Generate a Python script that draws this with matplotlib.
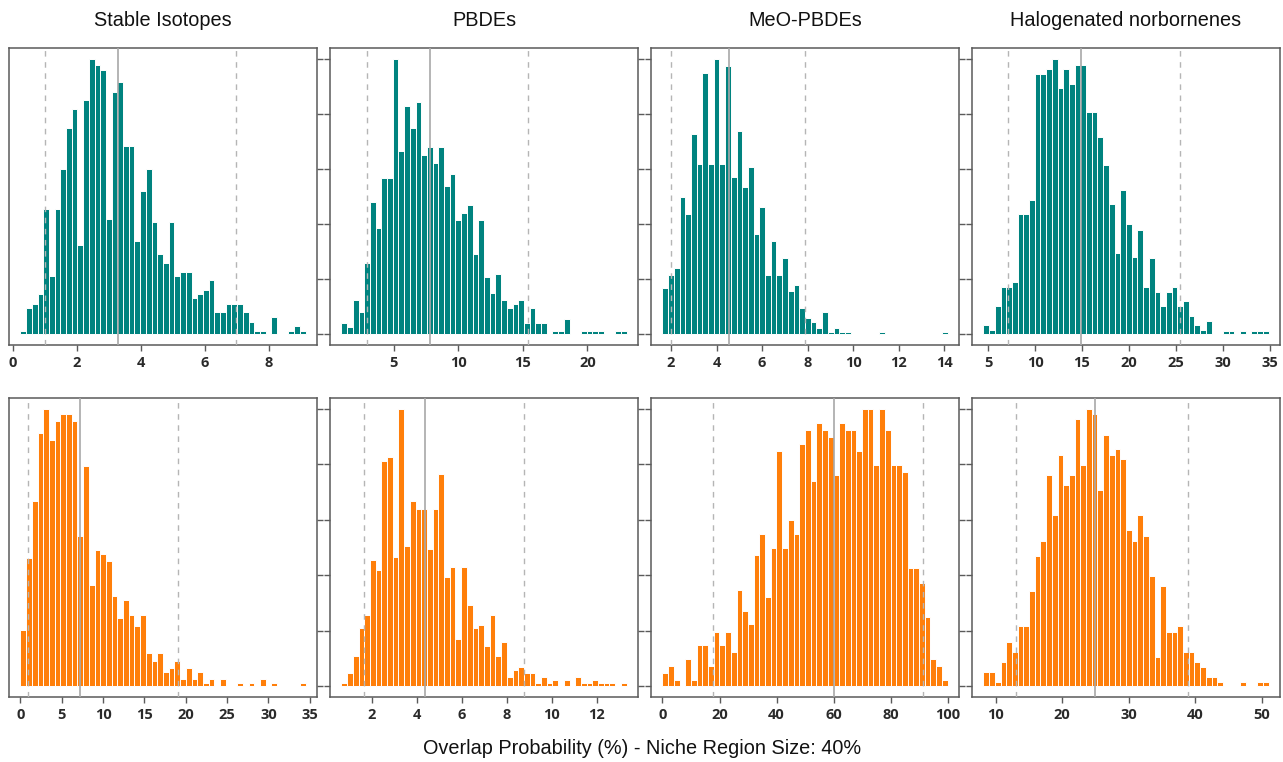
import numpy as np
import matplotlib
matplotlib.use("Agg")
import matplotlib.pyplot as plt

# column titles
titles = ["Stable Isotopes", "PBDEs", "MeO-PBDEs", "Halogenated norbornenes"]

# bar heights (scaled so the tallest bar = 100), 50 equal bins between lo and hi
si_top = [1, 9.5, 11, 14.5, 45.6, 21, 45.6, 60, 75, 82, 32.5, 85, 100, 98, 96, 42, 88, 91.5, 68.5, 68.5,
          34, 52, 60, 40.7, 29, 26, 40.7, 21, 22.6, 22.6, 13, 14.5, 16, 19.6, 8, 8, 11, 11, 11, 8,
          4.5, 1.2, 1.2, 0, 6.3, 0, 0, 1.2, 3, 1.2]
pbde_top = [3.9, 2.4, 12.3, 8.1, 26, 48, 38.6, 56.7, 56.7, 100, 66.4, 83, 75, 84.5, 65, 68, 62.3, 68, 53.8, 58.3,
            41.4, 44, 47, 29, 41.4, 20.6, 15, 22, 12.3, 9.6, 10.8, 12.3, 3.9, 9.6, 3.9, 3.9, 0, 1.1, 1.1, 5.3,
            0, 0, 1.1, 1.1, 1.1, 1.1, 0, 0, 1.1, 1.1]
meo_top = [16.6, 21.6, 24, 49.8, 43.8, 72.8, 62, 95, 62, 100, 62, 97.3, 57, 74, 53.4, 60.7, 36.3, 46.2, 21.6, 33.9,
           21.6, 27.7, 15.7, 18, 9.6, 5.9, 4.5, 2.1, 8.1, 0.8, 2.1, 0.8, 0.8, 0, 0, 0, 0, 0, 0.8, 0,
           0, 0, 0, 0, 0, 0, 0, 0, 0, 0.8]
hn_top = [3.3, 1.5, 10.3, 17.2, 17.2, 19, 43.5, 43.5, 48.9, 94.6, 94.6, 96.4, 100, 89.4, 96.4, 91, 98, 98, 80.7, 80.7,
          71.6, 61.3, 47.4, 29.6, 52.2, 40.1, 28, 38, 17.2, 27.7, 15.4, 10.3, 15.4, 17.2, 10.3, 12, 6.7, 3.3, 1.5, 4.8,
          0, 0, 1.2, 1.2, 0, 1.2, 0, 1.2, 1.2, 1.2]
si_bot = [20.2, 46.3, 66.8, 91.5, 100, 88.8, 95.8, 98.4, 98.4, 95.8, 54.3, 79.3, 36.6, 49, 47.7, 45, 32.6, 24.4, 31.2, 25.7,
          21.7, 25.7, 12, 9, 12, 5, 6.6, 9, 2.4, 6.6, 2.4, 5, 1, 2.4, 0, 2.4, 0, 0, 1, 0,
          1, 0, 2.4, 0, 1, 0, 0, 0, 0, 1]
pbde_bot = [1, 4.6, 10.9, 20.8, 25.6, 45.5, 41.7, 81.3, 82.7, 46.7, 100, 50.4, 66.7, 64, 64, 49.3, 64, 76.4, 39.3, 43.1,
            16.9, 43.1, 29.3, 20.8, 22, 14.5, 25.7, 10.9, 15.7, 3.4, 5.8, 7, 4.6, 4.6, 1, 3.4, 1, 2.2, 0, 2.2,
            0, 3.4, 1, 1, 2.2, 1, 1, 1, 0, 1]
meo_bot = [4.6, 7.2, 2.2, 0, 9.7, 2.2, 14.7, 14.7, 7.2, 19.6, 14.7, 19.6, 12.3, 34.7, 27.2, 22.3, 47.3, 54.7, 32.2, 49.8,
           84.9, 49.8, 59.8, 54.7, 87.3, 92.4, 73.9, 94.8, 92.4, 90, 76.3, 94.8, 92.4, 92.4, 84.8, 100, 100, 79.7, 100, 92.4,
           79.7, 79.7, 77.3, 42.5, 42.5, 37.2, 24.8, 9.7, 7.2, 2.2]
hn_bot = [5, 5, 1.5, 8.7, 15.9, 12.3, 21.5, 21.5, 34.2, 47.1, 52.5, 76.1, 61.6, 83.3, 72.7, 76.1, 96.4, 79.7, 100, 98.2,
          70.7, 90.6, 83.3, 85.4, 81.8, 56.2, 52.5, 61.6, 54.3, 39.6, 10.5, 36, 19.6, 19.6, 21.5, 12.3, 12.3, 8.7, 6.9, 3.3,
          3.3, 1.5, 0, 0, 0, 1.5, 0, 0, 1.5, 1.5]

# histogram ranges (lo, hi)
ranges_top = [(0.24, 9.15), (0.97, 23.03), (1.62, 14.15), (4.5, 34.9)]
ranges_bot = [(0.0, 34.5), (0.647, 13.32), (0.0, 99.9), (8.16, 51.04)]

# lower bound, centre, upper bound lines
lines_top = [(1.02, 3.29, 6.98), (2.97, 7.82, 15.41), (1.99, 4.54, 7.9), (7.08, 14.9, 25.5)]
lines_bot = [(0.96, 7.2, 19.1), (1.63, 4.37, 8.78), (17.6, 60.0, 91.4), (12.99, 24.9, 38.96)]

xticks_top = [[0, 2, 4, 6, 8], [5, 10, 15, 20], [2, 4, 6, 8, 10, 12, 14], [5, 10, 15, 20, 25, 30, 35]]
xticks_bot = [[0, 5, 10, 15, 20, 25, 30, 35], [2, 4, 6, 8, 10, 12], [0, 20, 40, 60, 80, 100], [10, 20, 30, 40, 50]]

heights_top = [si_top, pbde_top, meo_top, hn_top]
heights_bot = [si_bot, pbde_bot, meo_bot, hn_bot]

teal = "#00837f"
orange = "#ff7f0a"
frame = "#5a5a5a"

fig = plt.figure(figsize=(12.83, 7.62), dpi=100)
lefts = [9, 330, 651, 972]
width = 308


def draw_panel(ax, heights, rng, vl, ticks, color, col):
    lo, hi = rng
    edges = np.linspace(lo, hi, len(heights) + 1)
    ax.bar(edges[:-1], heights, width=np.diff(edges), align="edge",
           color=color, edgecolor="white", linewidth=0.7, zorder=2)
    ax.axvline(vl[0], color="#b5b5b5", lw=1.0, ls=(0, (4, 4)), zorder=3)
    ax.axvline(vl[2], color="#b5b5b5", lw=1.0, ls=(0, (4, 4)), zorder=3)
    ax.axvline(vl[1], color="#a8a8a8", lw=1.2, zorder=3)
    pad = 0.04 * (hi - lo)
    ax.set_xlim(lo - pad, hi + pad)
    ax.set_ylim(-4, 104)
    ax.set_xticks(ticks)
    ax.set_xticklabels([str(t) for t in ticks], fontsize=10.5, fontweight="bold",
                       family="Open Sans", color="#2a2a2a")
    ax.set_yticks([0, 20, 40, 60, 80, 100])
    ax.set_yticklabels([])
    ax.tick_params(axis="x", length=4, width=1, color=frame, pad=4)
    ax.tick_params(axis="y", length=4, width=1, color=frame,
                   left=(col > 0), right=(col < 3), labelleft=False, labelright=False)
    for s in ax.spines.values():
        s.set_color(frame)
        s.set_linewidth(1.1)


for col in range(4):
    ax = fig.add_axes([lefts[col] / 1283, 1 - 345 / 762, width / 1283, 297 / 762])
    draw_panel(ax, heights_top[col], ranges_top[col], lines_top[col], xticks_top[col], teal, col)
    fig.text((lefts[col] + width / 2) / 1283, 1 - 21 / 762, titles[col],
             ha="center", va="center", fontsize=14.3, family="Liberation Sans", color="#111111")

    ax = fig.add_axes([lefts[col] / 1283, 1 - 697 / 762, width / 1283, 299 / 762])
    draw_panel(ax, heights_bot[col], ranges_bot[col], lines_bot[col], xticks_bot[col], orange, col)

fig.text(642 / 1283, 1 - 749 / 762, "Overlap Probability (%) - Niche Region Size: 40%",
         ha="center", va="center", fontsize=14.3, family="Liberation Sans", color="#111111")

fig.savefig("out.png", dpi=100, facecolor="white")
